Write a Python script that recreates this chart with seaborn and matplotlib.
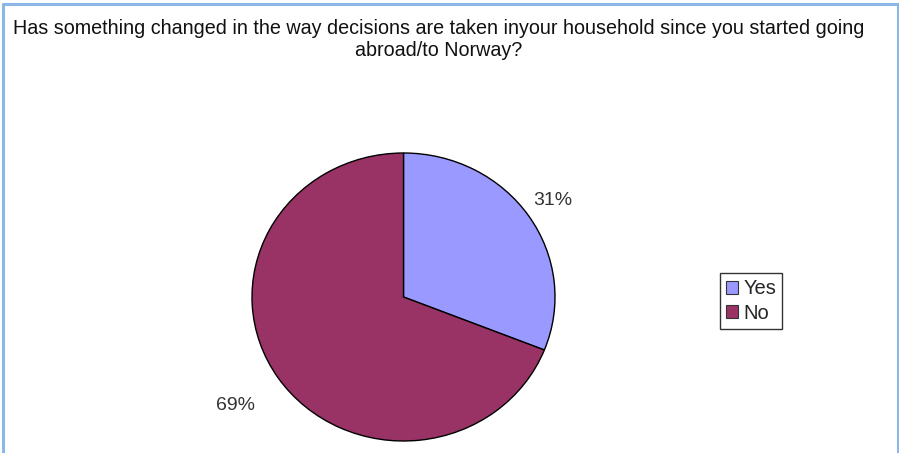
import numpy as np
import matplotlib
matplotlib.use("Agg")
import matplotlib.pyplot as plt
from matplotlib.lines import Line2D
import seaborn as sns

# Survey answers
answers = ["Yes", "No"]
shares = [31, 69]
colors = ["#9999FF", "#993366"]
title = ("Has something changed in the way decisions are taken inyour household since you started going\n"
         "abroad/to Norway?")

sns.set_theme(style="white")
plt.rcParams["font.family"] = ["Liberation Sans", "DejaVu Sans"]

W, H = 899, 453
fig = plt.figure(figsize=(W / 100, H / 100), dpi=100)
fig.patch.set_facecolor("white")

# Pie area in pixel terms (slightly wider than tall)
px_left, px_right, px_top, px_bottom = 252, 555, 153, 441
ax = fig.add_axes([px_left / W, (H - px_bottom) / H,
                   (px_right - px_left) / W, (px_bottom - px_top) / H])

wedges, texts, autotexts = ax.pie(
    shares, colors=colors, startangle=90, counterclock=False,
    autopct="%1.0f%%", pctdistance=1.2,
    wedgeprops=dict(edgecolor="black", linewidth=1.0),
    textprops=dict(fontsize=14, color="#333333"),
)
ax.set_aspect("auto")
ax.set_xlim(-1, 1)
ax.set_ylim(-1, 1)

# Place each percentage label outside its slice
label_dist = [1.19, 1.34]
for w, t, d in zip(wedges, autotexts, label_dist):
    mid = np.deg2rad((w.theta1 + w.theta2) / 2)
    t.set_position((d * np.cos(mid), d * np.sin(mid)))
    t.set_ha("center")
    t.set_va("center")

fig.text(439 / W, 1 - 40 / H, title, ha="center", va="center",
         fontsize=14.2, color="#111111", linespacing=1.2)

leg = fig.legend(wedges, answers, loc="center", bbox_to_anchor=(751 / W, 1 - 301 / H),
                 frameon=True, fancybox=False, fontsize=14.5, handlelength=0.6,
                 handleheight=0.6, handletextpad=0.25, borderpad=0.3,
                 labelspacing=0.25, borderaxespad=0)
leg.get_frame().set_edgecolor("black")
leg.get_frame().set_linewidth(1.0)
for h in leg.legend_handles:
    h.set_edgecolor("#333333")
    h.set_linewidth(0.8)

# Light blue frame around the chart
border = "#8CB6E8"
fig.add_artist(Line2D([2.5 / W, 2.5 / W], [0, 1 - 3.5 / H], color=border, lw=2.2))
fig.add_artist(Line2D([2.5 / W, 897.5 / W], [1 - 3.5 / H, 1 - 3.5 / H], color=border, lw=2.2))
fig.add_artist(Line2D([897.5 / W, 897.5 / W], [0, 1 - 3.5 / H], color=border, lw=2.2))

fig.savefig("out.png", dpi=100, facecolor="white")
